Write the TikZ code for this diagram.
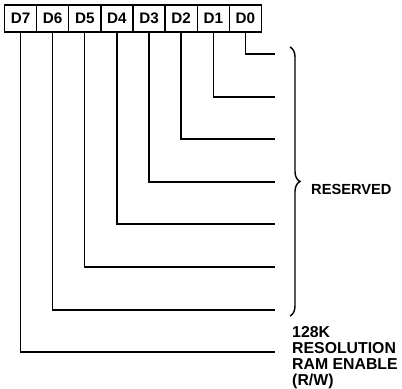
\documentclass[tikz,border=0pt]{standalone}
\usepackage{fontspec}
\setmainfont{Liberation Sans}
\usetikzlibrary{positioning,decorations.pathreplacing}
\begin{document}
\begin{tikzpicture}[x=0.03cm,y=-0.03cm,
  bit/.style={rectangle,draw=black,line width=1.2pt,minimum width=0.964cm,minimum height=0.81cm,inner sep=0pt,outer sep=0pt,font=\fontsize{13}{13}\selectfont\bfseries},
  lbl/.style={align=left,inner sep=0pt,font=\fontsize{13.5}{13.6}\selectfont\bfseries},
  wire/.style={line width=1.2pt}]
\useasboundingbox (0,0) rectangle (402,388);
\node[bit] (D7) at (20.5,18.5) {D7};
\node[bit,right=0pt of D7] (D6) {D6};
\node[bit,right=0pt of D6] (D5) {D5};
\node[bit,right=0pt of D5] (D4) {D4};
\node[bit,right=0pt of D4] (D3) {D3};
\node[bit,right=0pt of D3] (D2) {D2};
\node[bit,right=0pt of D2] (D1) {D1};
\node[bit,right=0pt of D1] (D0) {D0};
\coordinate (e0) at (275,54);
\coordinate (e1) at (275,97);
\coordinate (e2) at (275,139);
\coordinate (e3) at (275,182);
\coordinate (e4) at (275,224);
\coordinate (e5) at (275,267);
\coordinate (e6) at (275,310);
\coordinate (e7) at (275,352);
\draw[wire] (D0.south) |- (e0);
\draw[wire] (D1.south) |- (e1);
\draw[wire] (D2.south) |- (e2);
\draw[wire] (D3.south) |- (e3);
\draw[wire] (D4.south) |- (e4);
\draw[wire] (D5.south) |- (e5);
\draw[wire] (D6.south) |- (e6);
\draw[wire] (D7.south) |- (e7);
\coordinate (btop) at (290,47);
\coordinate (bbot) at (290,316);
\draw[wire,decorate,decoration={brace,amplitude=0.3cm}] (btop) -- (bbot);
\node[lbl,anchor=west,font=\fontsize{12.5}{13}\selectfont\bfseries] (reserved) at (311,189) {RESERVED};
\node[lbl,anchor=north west] (ramenable) at (292,326) {128K\\RESOLUTION\\RAM ENABLE\\(R/W)};
\end{tikzpicture}
\end{document}
